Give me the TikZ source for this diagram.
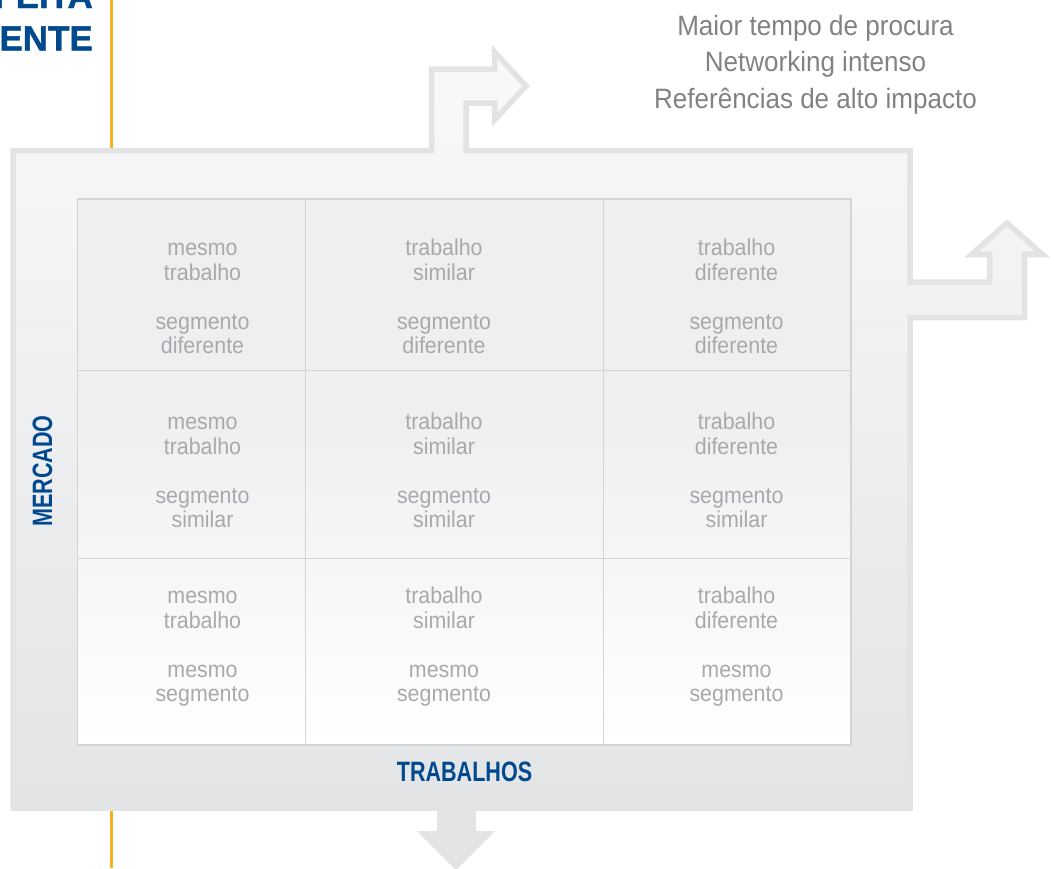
\documentclass[tikz,border=0pt]{standalone}
\usepackage{fontspec}
\setmainfont{Liberation Sans}
\newfontfamily\narrowfont[FakeStretch=0.93]{Liberation Sans}
\newfontfamily\lblfont[FakeStretch=0.77]{Liberation Sans}
\newfontfamily\titlefont[FakeBold=1.2]{Liberation Sans}
\definecolor{boxline}{HTML}{E2E3E5}
\definecolor{boxtop}{HTML}{F9F9FA}
\definecolor{boxbottom}{HTML}{E3E4E6}
\definecolor{arrowgray}{HTML}{E3E4E6}
\definecolor{gridline}{HTML}{D3D4D6}
\definecolor{gridtop}{HTML}{EEEFF0}
\definecolor{celltext}{HTML}{A7A9AC}
\definecolor{toptextcol}{HTML}{808285}
\definecolor{brandblue}{HTML}{00498F}
\definecolor{accent}{HTML}{F5B21C}
\pgfdeclareverticalshading{gridshade}{100bp}{color(0bp)=(white); color(25bp)=(white); color(55bp)=(gridtop); color(100bp)=(gridtop)}
\tikzset{
  cell/.style={font=\narrowfont\fontsize{23}{24.5}\selectfont, text=celltext, align=center, inner sep=0pt},
  toptext/.style={font=\narrowfont\fontsize{28}{36.5}\selectfont, text=toptextcol, align=center, inner sep=0pt, anchor=north},
  axislabel/.style={font=\lblfont\bfseries\fontsize{28}{30}\selectfont, text=brandblue, inner sep=0pt},
  titletext/.style={font=\titlefont\bfseries\fontsize{35}{42}\selectfont, text=brandblue, inner sep=0pt, anchor=base east},
  gridrule/.style={draw=gridline, line width=1.5pt}
}
\begin{document}
\begin{tikzpicture}[x=1pt,y=-1pt]
\useasboundingbox (0,0) rectangle (1054,868);
\clip (0,0) rectangle (1054,868);
% accent line
\draw[accent, line width=3pt] (111.5,0) -- (111.5,868);
% bottom arrow
\fill[arrowgray] (437,800) -- (476,800) -- (476,831) -- (495,831) -- (456,870) -- (417,831) -- (437,831) -- cycle;
% outline shape with arrows
\path[draw=boxline, line width=5.5pt, top color=boxtop, bottom color=boxbottom]
  (13,150.5) -- (431.5,150.5) -- (431.5,69) -- (494.5,69) -- (494.5,52) -- (526,86)
  -- (494.5,120) -- (494.5,103) -- (466,103) -- (466,150.5) -- (910,150.5)
  -- (910,282) -- (989.5,282) -- (989.5,254.5) -- (971.5,254.5) -- (1007,223)
  -- (1042.5,254.5) -- (1024.5,254.5) -- (1024.5,317.5) -- (910,317.5)
  -- (910,808) -- (13,808) -- cycle;
% grid
\shade[shading=gridshade] (77.5,199) rectangle (851,745);
\draw[gridrule] (77.5,199) rectangle (851,745);
\draw[gridrule] (305.5,199) -- (305.5,745);
\draw[gridrule] (603.5,199) -- (603.5,745);
\draw[gridrule] (77.5,370.5) -- (851,370.5);
\draw[gridrule] (77.5,558.5) -- (851,558.5);
% cells
\node[cell] (c11) at (202.5,300) {\strut mesmo\\trabalho\\[24.5pt]segmento\\diferente\strut};
\node[cell] (c12) at (444,300) {\strut trabalho\\similar\\[24.5pt]segmento\\diferente\strut};
\node[cell] (c13) at (736.5,300) {\strut trabalho\\diferente\\[24.5pt]segmento\\diferente\strut};
\node[cell] (c21) at (202.5,474) {\strut mesmo\\trabalho\\[24.5pt]segmento\\similar\strut};
\node[cell] (c22) at (444,474) {\strut trabalho\\similar\\[24.5pt]segmento\\similar\strut};
\node[cell] (c23) at (736.5,474) {\strut trabalho\\diferente\\[24.5pt]segmento\\similar\strut};
\node[cell] (c31) at (202.5,648) {\strut mesmo\\trabalho\\[24.5pt]mesmo\\segmento\strut};
\node[cell] (c32) at (444,648) {\strut trabalho\\similar\\[24.5pt]mesmo\\segmento\strut};
\node[cell] (c33) at (736.5,648) {\strut trabalho\\diferente\\[24.5pt]mesmo\\segmento\strut};
% labels
\node[axislabel, anchor=base] (trab) at (464.5,781) {TRABALHOS};
\node[axislabel, rotate=90, anchor=base] (merc) at (52,471) {MERCADO};
\node[toptext] (benefits) at (815.5,9.5) {\strut Maior tempo de procura\\Networking intenso\\Referências de alto impacto};
% title (cut off at the top edge, as in the reference)
\node[titletext] (title1) at (93,8) {FEITA};
\node[titletext] (title2) at (93,50.5) {ENTE};
\end{tikzpicture}
\end{document}
